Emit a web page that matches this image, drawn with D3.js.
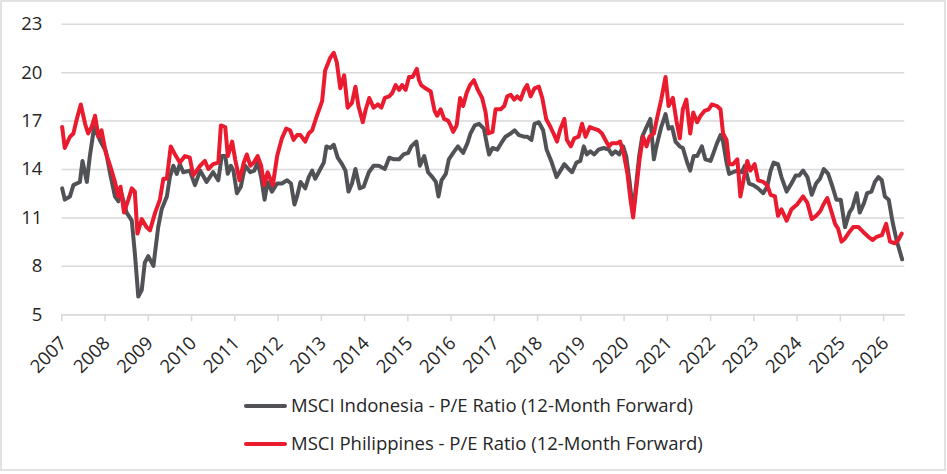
<!DOCTYPE html>
<html>
<head>
<meta charset="utf-8">
<script src="https://cdn.jsdelivr.net/npm/d3@7"></script>
<style>
  html, body { margin: 0; padding: 0; background: #fff; }
  svg { display: block; font-family: "Open Sans", "Noto Sans", sans-serif; }
</style>
</head>
<body>
<div id="chart"></div>
<script>
// tick labels
const yTicks = [5, 8, 11, 14, 17, 20, 23];
const xTicks = d3.range(2007, 2027);

// MSCI Indonesia - P/E Ratio (12-Month Forward), decimal years
const indoYears = [
  2007.02, 2007.08, 2007.20, 2007.28, 2007.43, 2007.49, 2007.59, 2007.66, 2007.76, 2007.89,
  2008.03, 2008.13, 2008.24, 2008.32, 2008.39, 2008.51, 2008.63, 2008.70, 2008.78, 2008.86,
  2008.93, 2009.01, 2009.13, 2009.24, 2009.32, 2009.44, 2009.51, 2009.59, 2009.67, 2009.74,
  2009.82, 2009.97, 2010.09, 2010.21, 2010.36, 2010.51, 2010.63, 2010.71, 2010.79, 2010.85,
  2010.92, 2010.98, 2011.06, 2011.15, 2011.25, 2011.37, 2011.46, 2011.54, 2011.62, 2011.70,
  2011.77, 2011.87, 2011.99, 2012.10, 2012.22, 2012.31, 2012.39, 2012.45, 2012.53, 2012.64,
  2012.72, 2012.80, 2012.87, 2012.99, 2013.07, 2013.13, 2013.22, 2013.30, 2013.39, 2013.49,
  2013.57, 2013.64, 2013.72, 2013.80, 2013.90, 2013.99, 2014.11, 2014.22, 2014.34, 2014.48,
  2014.58, 2014.69, 2014.81, 2014.91, 2015.02, 2015.09, 2015.21, 2015.29, 2015.39, 2015.48,
  2015.58, 2015.66, 2015.72, 2015.79, 2015.89, 2015.96, 2016.06, 2016.17, 2016.29, 2016.39,
  2016.46, 2016.56, 2016.66, 2016.77, 2016.85, 2016.89, 2016.97, 2017.08, 2017.17, 2017.27,
  2017.39, 2017.48, 2017.58, 2017.70, 2017.77, 2017.87, 2017.94, 2018.04, 2018.14, 2018.22,
  2018.34, 2018.45, 2018.54, 2018.63, 2018.73, 2018.81, 2018.91, 2019.00, 2019.08, 2019.15,
  2019.23, 2019.32, 2019.42, 2019.54, 2019.66, 2019.73, 2019.81, 2019.90, 2019.99, 2020.06,
  2020.14, 2020.22, 2020.29, 2020.36, 2020.43, 2020.53, 2020.62, 2020.70, 2020.76, 2020.87,
  2020.97, 2021.04, 2021.12, 2021.20, 2021.30, 2021.37, 2021.47, 2021.54, 2021.62, 2021.70,
  2021.81, 2021.89, 2022.01, 2022.08, 2022.16, 2022.24, 2022.30, 2022.38, 2022.44, 2022.53,
  2022.63, 2022.73, 2022.80, 2022.90, 2023.00, 2023.11, 2023.23, 2023.32, 2023.40, 2023.47,
  2023.57, 2023.65, 2023.77, 2023.88, 2023.98, 2024.06, 2024.15, 2024.25, 2024.35, 2024.45,
  2024.54, 2024.63, 2024.73, 2024.83, 2024.92, 2025.02, 2025.12, 2025.22, 2025.29, 2025.39,
  2025.46, 2025.56, 2025.63, 2025.73, 2025.81, 2025.89, 2025.97, 2026.04, 2026.13, 2026.22,
  2026.31, 2026.44
];
const indoValues = [
  12.8, 12.1, 12.3, 13.0, 13.2, 14.5, 13.2, 14.8, 16.6, 15.8,
  15.1, 13.7, 12.3, 12.0, 12.5, 11.3, 10.8, 8.8, 6.1, 6.5,
  8.2, 8.6, 8.0, 10.4, 11.5, 12.3, 13.5, 14.2, 13.7, 14.3,
  13.8, 13.9, 13.0, 13.9, 13.2, 13.8, 13.3, 14.8, 14.8, 13.7,
  14.2, 13.9, 12.5, 12.9, 14.2, 13.8, 13.9, 14.4, 13.5, 12.1,
  13.2, 12.6, 13.1, 13.1, 13.3, 13.1, 11.8, 12.3, 13.2, 12.8,
  13.5, 13.9, 13.4, 14.0, 14.4, 15.4, 15.3, 15.5, 14.7, 14.3,
  13.9, 12.6, 13.1, 14.0, 12.8, 12.9, 13.8, 14.2, 14.2, 14.0,
  14.7, 14.6, 14.6, 14.9, 15.0, 15.4, 15.7, 14.2, 14.8, 13.8,
  13.5, 13.2, 12.3, 13.3, 13.7, 14.6, 15.0, 15.4, 15.0, 15.6,
  16.2, 16.7, 16.8, 16.5, 15.4, 14.9, 15.3, 15.2, 15.6, 16.0,
  16.2, 16.4, 16.1, 16.0, 16.0, 15.8, 16.8, 16.9, 16.4, 15.2,
  14.4, 13.5, 13.9, 14.3, 14.0, 13.8, 14.4, 14.5, 15.4, 14.9,
  15.1, 14.9, 15.2, 15.3, 15.2, 14.9, 15.1, 14.9, 15.4, 14.8,
  13.2, 11.3, 13.0, 14.8, 16.0, 16.6, 17.1, 14.6, 15.4, 16.6,
  17.4, 16.5, 16.6, 15.7, 15.4, 15.3, 14.4, 13.9, 14.8, 14.8,
  15.4, 14.6, 14.5, 15.0, 15.6, 16.1, 15.7, 14.4, 13.7, 13.8,
  13.9, 13.8, 14.2, 13.1, 13.0, 12.8, 12.5, 12.9, 13.9, 14.4,
  14.3, 13.5, 12.6, 13.1, 13.6, 13.6, 13.9, 13.5, 12.4, 13.1,
  13.4, 14.0, 13.7, 12.9, 12.1, 12.1, 10.4, 11.3, 11.6, 12.5,
  11.3, 11.9, 12.5, 12.6, 13.2, 13.5, 13.3, 12.3, 12.1, 10.7,
  9.6, 8.4
];

// MSCI Philippines - P/E Ratio (12-Month Forward)
const phYears = [
  2007.02, 2007.08, 2007.20, 2007.28, 2007.35, 2007.45, 2007.55, 2007.62, 2007.70, 2007.78,
  2007.86, 2007.93, 2008.03, 2008.13, 2008.24, 2008.32, 2008.37, 2008.45, 2008.55, 2008.63,
  2008.70, 2008.76, 2008.86, 2008.97, 2009.05, 2009.17, 2009.28, 2009.36, 2009.44, 2009.53,
  2009.63, 2009.74, 2009.86, 2009.97, 2010.05, 2010.21, 2010.32, 2010.40, 2010.51, 2010.63,
  2010.69, 2010.79, 2010.85, 2010.95, 2011.02, 2011.12, 2011.22, 2011.29, 2011.37, 2011.45,
  2011.54, 2011.62, 2011.69, 2011.77, 2011.89, 2011.99, 2012.10, 2012.20, 2012.29, 2012.37,
  2012.45, 2012.53, 2012.64, 2012.72, 2012.80, 2012.91, 2013.03, 2013.10, 2013.22, 2013.30,
  2013.37, 2013.45, 2013.54, 2013.62, 2013.72, 2013.80, 2013.87, 2013.97, 2014.04, 2014.12,
  2014.22, 2014.32, 2014.40, 2014.48, 2014.58, 2014.65, 2014.73, 2014.81, 2014.88, 2014.96,
  2015.04, 2015.12, 2015.22, 2015.27, 2015.32, 2015.42, 2015.54, 2015.63, 2015.69, 2015.77,
  2015.85, 2015.94, 2016.00, 2016.06, 2016.14, 2016.22, 2016.29, 2016.37, 2016.45, 2016.54,
  2016.63, 2016.73, 2016.81, 2016.87, 2016.97, 2017.04, 2017.16, 2017.24, 2017.31, 2017.39,
  2017.47, 2017.54, 2017.62, 2017.70, 2017.77, 2017.85, 2017.94, 2018.04, 2018.12, 2018.21,
  2018.31, 2018.38, 2018.46, 2018.54, 2018.63, 2018.69, 2018.78, 2018.86, 2018.96, 2019.04,
  2019.12, 2019.22, 2019.31, 2019.42, 2019.50, 2019.58, 2019.66, 2019.73, 2019.85, 2019.92,
  2020.00, 2020.09, 2020.16, 2020.22, 2020.29, 2020.37, 2020.45, 2020.53, 2020.60, 2020.70,
  2020.77, 2020.87, 2020.97, 2021.04, 2021.14, 2021.22, 2021.30, 2021.37, 2021.45, 2021.54,
  2021.61, 2021.70, 2021.78, 2021.87, 2021.97, 2022.04, 2022.16, 2022.24, 2022.30, 2022.38,
  2022.44, 2022.53, 2022.63, 2022.70, 2022.78, 2022.86, 2022.93, 2023.03, 2023.11, 2023.23,
  2023.32, 2023.40, 2023.50, 2023.57, 2023.65, 2023.77, 2023.88, 2024.01, 2024.15, 2024.25,
  2024.35, 2024.45, 2024.55, 2024.62, 2024.71, 2024.79, 2024.89, 2024.96, 2025.04, 2025.12,
  2025.22, 2025.31, 2025.43, 2025.54, 2025.66, 2025.76, 2025.85, 2025.97, 2026.07, 2026.16,
  2026.27, 2026.35, 2026.43
];
const phValues = [
  16.6, 15.3, 16.0, 16.2, 17.0, 18.0, 16.8, 16.2, 16.6, 17.3,
  16.0, 16.4, 15.0, 14.2, 13.2, 12.3, 12.9, 11.3, 12.1, 12.8,
  12.6, 10.0, 10.9, 10.4, 10.2, 11.3, 12.1, 13.4, 13.4, 15.4,
  14.9, 14.4, 14.8, 14.7, 13.6, 14.2, 14.5, 14.0, 14.3, 14.4,
  16.7, 16.6, 14.8, 15.7, 14.6, 13.3, 14.4, 14.9, 14.2, 14.4,
  14.8, 14.2, 13.0, 13.8, 13.0, 14.8, 15.9, 16.5, 16.4, 15.8,
  16.1, 16.1, 15.7, 16.2, 16.4, 17.3, 18.2, 20.1, 20.9, 21.2,
  20.6, 19.0, 19.8, 17.8, 18.1, 19.1, 17.9, 16.9, 17.7, 18.4,
  17.8, 18.0, 17.8, 18.4, 18.5, 18.7, 19.2, 18.9, 19.2, 18.9,
  19.7, 19.7, 20.2, 19.5, 19.2, 19.0, 18.8, 17.6, 17.3, 17.7,
  17.1, 17.0, 16.7, 16.3, 16.7, 18.4, 17.9, 18.7, 19.2, 19.5,
  18.9, 18.4, 17.5, 16.2, 16.3, 17.7, 17.7, 17.9, 18.5, 18.6,
  18.3, 18.5, 18.3, 18.9, 19.2, 18.5, 19.0, 19.1, 18.4, 17.1,
  16.6, 16.2, 15.7, 16.5, 17.1, 15.8, 15.4, 15.9, 16.0, 16.8,
  16.0, 16.6, 16.5, 16.4, 16.2, 15.8, 15.4, 15.6, 15.6, 15.7,
  15.0, 13.7, 12.1, 11.0, 12.7, 14.6, 16.0, 15.4, 16.0, 16.2,
  17.1, 18.3, 19.7, 17.9, 18.4, 17.0, 15.9, 17.7, 18.3, 16.2,
  17.5, 16.9, 17.3, 17.6, 17.7, 18.0, 17.9, 17.7, 16.2, 15.8,
  14.3, 14.3, 14.6, 12.3, 13.4, 14.5, 13.9, 14.3, 13.3, 13.2,
  13.0, 12.4, 12.3, 11.1, 11.5, 10.8, 11.5, 11.8, 12.3, 11.9,
  10.9, 11.1, 11.4, 11.8, 12.2, 11.5, 10.6, 10.3, 9.5, 9.7,
  10.1, 10.4, 10.4, 10.1, 9.8, 9.6, 9.8, 9.9, 10.6, 9.5,
  9.4, 9.6, 10.0
];

const seriesNames = [
  "MSCI Indonesia - P/E Ratio (12-Month Forward)",
  "MSCI Philippines - P/E Ratio (12-Month Forward)"
];
const seriesColors = ["#505256", "#ea1b2f"];

const width = 947, height = 474;
const plotLeft = 61.3, plotRight = 904.3, plotTop = 23.7, plotBottom = 314.3;
const gridColor = "#d9d9d9";
const textColor = "#262626";

const svg = d3.select("#chart").append("svg")
  .attr("width", width)
  .attr("height", height);

// frame
svg.append("rect")
  .attr("x", 1).attr("y", 1)
  .attr("width", width - 3).attr("height", height - 5)
  .attr("fill", "#fff")
  .attr("stroke", gridColor)
  .attr("stroke-width", 1.5);

const x = d3.scaleLinear().domain([2007, 2026.49]).range([plotLeft, plotRight]);
const y = d3.scaleLinear().domain([5, 23]).range([plotBottom, plotTop]);

// y axis with gridlines
const yAxis = svg.append("g")
  .attr("transform", `translate(${plotLeft},0)`)
  .call(d3.axisLeft(y).tickValues(yTicks).tickSize(-(plotRight - plotLeft)).tickPadding(19));
yAxis.select(".domain").remove();
yAxis.selectAll(".tick line").attr("stroke", gridColor).attr("stroke-width", 1.5);
yAxis.selectAll(".tick text")
  .attr("fill", textColor)
  .style("font-size", "18.5px")
  .style("font-family", "'Open Sans', sans-serif");

// x axis
const xAxis = svg.append("g")
  .attr("transform", `translate(0,${plotBottom})`)
  .call(d3.axisBottom(x).tickValues(xTicks).tickFormat(d3.format("d")).tickSize(7).tickSizeOuter(0));
xAxis.select(".domain").attr("stroke", gridColor).attr("stroke-width", 1.5);
xAxis.selectAll(".tick line").attr("stroke", gridColor).attr("stroke-width", 1.5);
xAxis.selectAll(".tick text")
  .attr("fill", textColor)
  .style("font-size", "18.5px")
  .style("font-family", "'Open Sans', sans-serif")
  .attr("text-anchor", "end")
  .attr("dy", null)
  .attr("y", null)
  .attr("transform", "translate(6,30) rotate(-45)");

// lines
const line = d3.line()
  .x(d => x(d[0]))
  .y(d => y(d[1]));

const series = [
  d3.zip(indoYears, indoValues),
  d3.zip(phYears, phValues)
];

series.forEach((data, i) => {
  svg.append("path")
    .datum(data)
    .attr("fill", "none")
    .attr("stroke", seriesColors[i])
    .attr("stroke-width", 4)
    .attr("stroke-linejoin", "round")
    .attr("stroke-linecap", "round")
    .attr("d", line);
});

// legend
const legend = svg.append("g");
seriesNames.forEach((name, i) => {
  const ly = 406 + i * 38;
  legend.append("line")
    .attr("x1", 246).attr("x2", 285)
    .attr("y1", ly).attr("y2", ly)
    .attr("stroke", seriesColors[i])
    .attr("stroke-width", 4)
    .attr("stroke-linecap", "round");
  legend.append("text")
    .attr("x", 291).attr("y", ly)
    .attr("dy", "0.35em")
    .attr("fill", textColor)
    .style("font-size", "18.5px")
    .text(name);
});
</script>
</body>
</html>
